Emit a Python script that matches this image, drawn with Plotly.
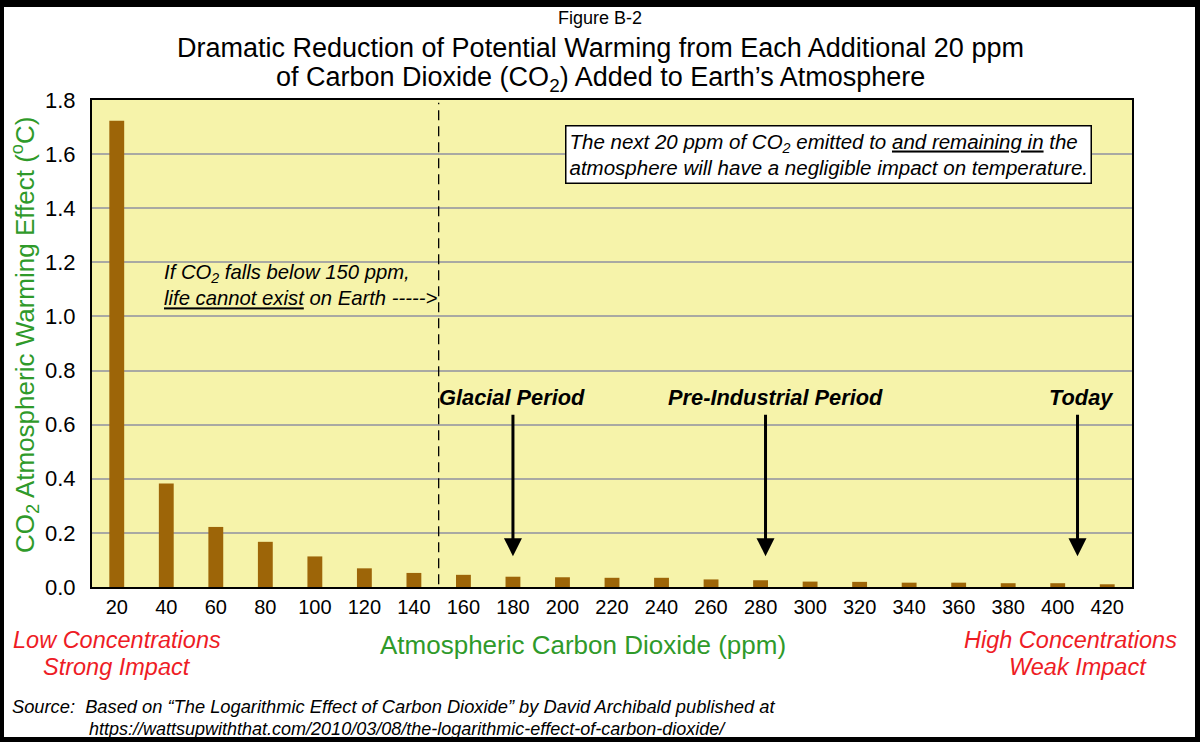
import plotly.graph_objects as go

# CO2 concentration (ppm) for each 20 ppm step and its warming effect (deg C)
ppm = [20, 40, 60, 80, 100, 120, 140, 160, 180, 200, 220,
       240, 260, 280, 300, 320, 340, 360, 380, 400, 420]
warming = [1.723, 0.383, 0.222, 0.167, 0.113, 0.069, 0.052, 0.045, 0.038, 0.036, 0.034,
           0.034, 0.028, 0.025, 0.020, 0.019, 0.016, 0.016, 0.014, 0.014, 0.010]

# labelled periods and where their arrows point
period_names = ['Glacial Period', 'Pre-Industrial Period', 'Today']
period_ppm = [180, 282, 408]
life_limit_ppm = 150

# plot area in pixels, used to place the free text
L, R, T, B = 92, 1132, 100, 587
W, H = R - L, B - T


def fx(px):
    return (px - L) / W


def fy(py):
    return (B - py) / H


FONT = 'Liberation Sans, Arial, sans-serif'
GREEN = '#2f9a2a'
RED = '#ee1c25'

fig = go.Figure()
fig.add_trace(go.Bar(x=ppm, y=warming, width=6, marker_color='#9d6508',
                     marker_line_width=0, showlegend=False))

annotations = []


def text(px, py, s, size, color='black', xanchor='center', align='center', **kw):
    annotations.append(dict(xref='paper', yref='paper', x=fx(px), y=fy(py), text=s,
                            showarrow=False, xanchor=xanchor, yanchor='middle', align=align,
                            font=dict(family=FONT, size=size, color=color), **kw))


text(600, 18, 'Figure B-2', 18)
text(600, 48, 'Dramatic Reduction of Potential Warming from Each Additional 20 ppm', 27)
text(600, 79, 'of Carbon Dioxide (CO<sub>2</sub>) Added to Earth\u2019s Atmosphere', 27)

text(25, 335, 'CO<sub>2</sub> Atmospheric Warming Effect (<sup>o</sup>C)', 26, GREEN, textangle=-90)
text(583, 645, 'Atmospheric Carbon Dioxide (ppm)', 26, GREEN)
text(117, 640, '<i>Low Concentrations</i>', 23.5, RED)
text(117, 667, '<i>Strong Impact</i>', 23.5, RED)
text(1070, 640, '<i>High Concentrations</i>', 23.5, RED)
text(1078, 667, '<i>Weak Impact</i>', 23.5, RED)

text(10, 706, '<i>Source:  Based on \u201cThe Logarithmic Effect of Carbon Dioxide\u201d by David Archibald published at</i>',
     18.3, xanchor='left', align='left')
text(87, 729, '<i>https://wattsupwiththat.com/2010/03/08/the-logarithmic-effect-of-carbon-dioxide/</i>',
     18, xanchor='left', align='left')

text(828, 154, '<i>The next 20 ppm of CO<sub>2</sub> emitted to <u>and remaining in</u> the<br>'
               'atmosphere will have a negligible impact on temperature.</i>',
     20.5, align='left', bgcolor='white', bordercolor='black', borderwidth=1.5, borderpad=3)
text(162, 285, '<i>If CO<sub>2</sub> falls below 150 ppm,<br><u>life cannot exist</u> on Earth -----></i>',
     20.3, xanchor='left', align='left')

label_px = [512, 775, 1081]
for name, x_ppm, lx in zip(period_names, period_ppm, label_px):
    text(lx, 397, '<b><i>' + name + '</i></b>', 21.8)
    annotations.append(dict(x=x_ppm, y=0.114, ax=x_ppm, ay=0.642, xref='x', yref='y',
                            axref='x', ayref='y', text='', showarrow=True,
                            arrowhead=2, arrowsize=1.2, arrowwidth=3, arrowcolor='black'))

fig.update_layout(
    width=1200, height=742,
    margin=dict(l=L, r=1200 - R, t=T, b=742 - B),
    paper_bgcolor='white',
    plot_bgcolor='#f6f3aa',
    font=dict(family=FONT, size=20, color='black'),
    annotations=annotations,
    shapes=[
        dict(type='line', xref='x', yref='y', x0=life_limit_ppm, x1=life_limit_ppm, y0=0.01, y1=1.79,
             line=dict(color='black', width=1.3, dash='10px,6px')),
        dict(type='rect', xref='paper', yref='paper', x0=fx(0), x1=fx(1199), y0=fy(3), y1=fy(741),
             line=dict(color='black', width=8), layer='above'),
    ],
    xaxis=dict(range=[10, 430], tickvals=ppm, showgrid=False, zeroline=False,
               showline=True, linecolor='black', linewidth=2, mirror=True,
               ticks='', ticklabelstandoff=1, tickfont=dict(size=20)),
    yaxis=dict(range=[0, 1.8], dtick=0.2, tickformat='.1f', showgrid=True,
               gridcolor='#a9a9a3', gridwidth=2, zeroline=False,
               showline=True, linecolor='black', linewidth=2, mirror=True,
               ticks='', ticklabelstandoff=10, tickfont=dict(size=22)),
)

# drop the page's default body margin so the figure sits at the window corner
fig.write_html('out.html', config={'displayModeBar': False},
               post_script="document.body.style.margin='0';document.body.style.overflow='hidden';")
